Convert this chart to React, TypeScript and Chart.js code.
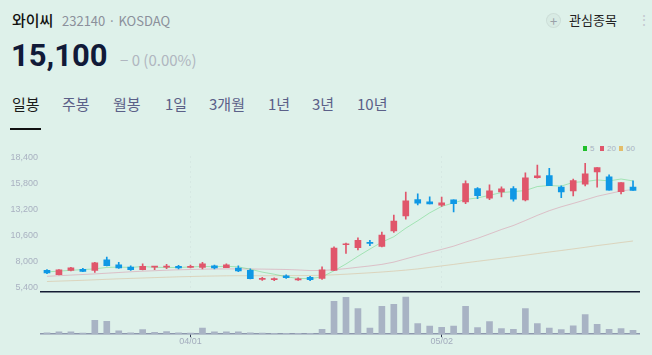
import React, { useEffect, useRef } from "react";
import { Chart, registerables } from "chart.js";

Chart.register(...registerables);

const dates = [
  "03/14", "03/15", "03/18", "03/19", "03/20", "03/21", "03/22", "03/25", "03/26", "03/27",
  "03/28", "03/29", "04/01", "04/02", "04/03", "04/04", "04/05", "04/08", "04/09", "04/11",
  "04/12", "04/15", "04/16", "04/17", "04/18", "04/19", "04/22", "04/23", "04/24", "04/25",
  "04/26", "04/29", "04/30", "05/02", "05/03", "05/07", "05/08", "05/09", "05/10", "05/13",
  "05/14", "05/16", "05/17", "05/20", "05/21", "05/22", "05/23", "05/24", "05/27", "05/28",
];
const opens = [
  7100, 6670, 7100, 7200, 7100, 8160, 7660, 7430, 7170, 7420,
  7420, 7490, 7390, 7400, 7560, 7360, 7330, 7100, 6200, 6170,
  6540, 6140, 6400, 6300, 7100, 9660, 9360, 9860, 9490, 11050,
  12550, 14170, 13940, 13620, 14140, 13940, 15270, 14310, 14940, 15270,
  14140, 16370, 16570, 15410, 15040, 15710, 16940, 16440, 14970, 15410,
];
const highs = [
  7170, 7170, 7400, 7290, 7900, 8430, 7890, 7560, 7760, 7470,
  7690, 7590, 7630, 7890, 7630, 7760, 7560, 7240, 6400, 6340,
  6640, 6340, 6500, 7460, 9460, 9830, 10350, 10090, 10920, 12620,
  14910, 14740, 14440, 14410, 14140, 16040, 15370, 15640, 15440, 15470,
  16840, 17630, 17300, 15540, 16210, 17800, 17360, 16640, 15870, 16040,
];
const lows = [
  6770, 6640, 7040, 6960, 6900, 7530, 7300, 7100, 7130, 7170,
  7260, 7230, 7330, 7230, 7230, 7360, 6970, 6240, 6100, 6070,
  6300, 6100, 6070, 6200, 7060, 8790, 9130, 9560, 9430, 10880,
  12220, 13640, 13740, 13480, 12950, 13770, 14270, 14170, 14440, 14010,
  14040, 16310, 15570, 14370, 14540, 15540, 15410, 15110, 14740, 15100,
];
const closes = [
  6840, 7160, 7360, 7000, 7860, 7560, 7330, 7170, 7490, 7460,
  7460, 7330, 7430, 7760, 7330, 7660, 7040, 6270, 6300, 6270,
  6370, 6240, 6170, 7160, 9330, 9760, 10090, 9790, 10620, 12020,
  14040, 13810, 13740, 13840, 13770, 15770, 14570, 15040, 15240, 14210,
  16340, 16540, 15570, 14940, 16070, 16740, 17360, 15110, 15870, 15100,
];
const volumes = [
  130, 200, 200, 100, 1200, 1130, 300, 130, 400, 170,
  230, 130, 100, 530, 200, 200, 200, 130, 100, 70,
  70, 70, 70, 430, 2870, 3200, 2230, 530, 2430, 2600,
  3230, 930, 700, 600, 700, 2430, 570, 1100, 500, 430,
  2230, 930, 530, 400, 730, 1700, 870, 430, 500, 330,
];
const ma5 = [
  6940, 7020, 7100, 7170, 7244, 7388, 7422, 7384, 7482, 7402,
  7382, 7382, 7434, 7488, 7462, 7502, 7444, 7212, 6920, 6708,
  6450, 6290, 6270, 6442, 7054, 7732, 8502, 9226, 9918, 10456,
  11312, 12056, 12846, 13490, 13840, 14186, 14338, 14598, 14878, 14966,
  15080, 15474, 15580, 15520, 15892, 15972, 16136, 16044, 16230, 16036,
];
const ma20 = [
  6500, 6560, 6620, 6680, 6740, 6810, 6880, 6950, 7010, 7060,
  7110, 7150, 7180, 7210, 7230, 7240, 7240, 7230, 7220, 7204,
  7181, 7135, 7075, 7083, 7157, 7267, 7405, 7536, 7692, 7920,
  8249, 8573, 8889, 9193, 9515, 9920, 10297, 10735, 11182, 11579,
  12078, 12593, 13063, 13452, 13789, 14138, 14501, 14767, 15030, 15184,
];
const ma60 = [
  5980, 6020, 6060, 6100, 6150, 6200, 6250, 6290, 6330, 6370,
  6410, 6450, 6480, 6510, 6530, 6550, 6560, 6560, 6560, 6560,
  6570, 6570, 6580, 6600, 6650, 6710, 6780, 6850, 6930, 7020,
  7120, 7240, 7390, 7540, 7690, 7850, 8000, 8150, 8300, 8450,
  8610, 8770, 8930, 9080, 9240, 9400, 9570, 9720, 9880, 10030,
];
const priceTicks = [5400, 8000, 10600, 13200, 15800, 18400];
const shownDates = ["04/01", "05/02"];
const maNames = ["5", "20", "60"];
const tabs = ["일봉", "주봉", "월봉", "1일", "3개월", "1년", "3년", "10년"];
const tabLefts = [12, 62, 113, 165, 209, 268, 312, 357];

const BG = "#def1ea";
const UP = "#e0566b";
const DOWN = "#0f98e5";
const MA_SOLID = ["#1fbf2a", "#e0566b", "#e3bd6a"];
const MA_LINE = ["rgba(40,200,70,0.33)", "rgba(215,100,135,0.35)", "rgba(215,165,115,0.38)"];
const AXIS_FONT = "'Liberation Sans', Arial, sans-serif";
const KR = "'Noto Sans CJK KR', 'Noto Sans', sans-serif";

export default function App() {
  const priceRef = useRef<HTMLCanvasElement>(null);
  const volRef = useRef<HTMLCanvasElement>(null);

  useEffect(() => {
    const colors = closes.map((c, i) => (c >= opens[i] ? UP : DOWN));
    const maData = [ma5, ma20, ma60];
    const price = new Chart(priceRef.current!, {
      type: "bar",
      data: {
        labels: dates,
        datasets: [
          ...maData.map((d, k) => ({
            type: "line" as const,
            label: maNames[k],
            data: d,
            borderColor: MA_LINE[k],
            borderWidth: 1,
            pointRadius: 0,
            tension: 0,
            order: 3 + k,
          })),
          {
            label: "wick",
            data: lows.map((l, i) => [l, highs[i]]),
            backgroundColor: colors,
            barThickness: 1,
            grouped: false,
            order: 2,
          } as any,
          {
            label: "body",
            data: opens.map((o, i) => [o, closes[i]]),
            backgroundColor: colors,
            barThickness: 6,
            grouped: false,
            minBarLength: 1,
            order: 1,
          } as any,
        ],
      },
      options: {
        animation: false,
        responsive: false,
        devicePixelRatio: 1,
        layout: { padding: { top: 16, bottom: 3, left: 0, right: 13 } },
        plugins: { legend: { display: false }, tooltip: { enabled: false } },
        scales: {
          x: {
            offset: true,
            ticks: { display: false, autoSkip: false },
            grid: {
              offset: false,
              drawTicks: false,
              color: (ctx: any) =>
                shownDates.includes(dates[ctx.index]) ? "rgba(110,120,140,0.07)" : "rgba(0,0,0,0)",
            },
            border: { display: true, color: "#141c33", width: 1.5, dash: [2, 3] },
          },
          y: {
            min: 4971,
            max: 18530,
            afterBuildTicks: (s: any) => {
              s.ticks = priceTicks.map((v) => ({ value: v }));
            },
            afterFit: (s: any) => {
              s.width = 41;
            },
            grid: { display: false, drawTicks: false },
            border: { display: false },
            ticks: {
              color: "#a9b1c1",
              padding: 3,
              font: { size: 9, family: AXIS_FONT },
              callback: (v: any) => Number(v).toLocaleString("en-US"),
            },
          },
        },
      },
    });

    const vol = new Chart(volRef.current!, {
      type: "bar",
      data: {
        labels: dates,
        datasets: [{ data: volumes, backgroundColor: "#a8b3c4", barThickness: 6 }],
      },
      options: {
        animation: false,
        responsive: false,
        devicePixelRatio: 1,
        layout: { padding: { top: 1, bottom: 9, left: 41, right: 13 } },
        plugins: { legend: { display: false }, tooltip: { enabled: false } },
        scales: {
          x: {
            offset: true,
            grid: {
              offset: false,
              drawOnChartArea: false,
              drawTicks: true,
              tickLength: 3,
              color: (ctx: any) =>
                shownDates.includes(dates[ctx.index]) ? "#2b334d" : "rgba(0,0,0,0)",
            },
            border: { color: "#8d98ad", width: 1.5 },
            ticks: {
              autoSkip: false,
              maxRotation: 0,
              padding: -1,
              color: "#a3acbd",
              font: { size: 9, family: AXIS_FONT },
              callback: (_v: any, i: number) => (shownDates.includes(dates[i]) ? dates[i] : ""),
            },
          },
          y: { display: false, min: 0, max: 3500 },
        },
      },
    });

    return () => {
      price.destroy();
      vol.destroy();
    };
  }, []);

  const abs = (style: React.CSSProperties): React.CSSProperties => ({
    position: "absolute",
    whiteSpace: "nowrap",
    ...style,
  });

  return (
    <div
      style={{
        position: "absolute",
        left: 0,
        top: 0,
        width: 652,
        height: 355,
        overflow: "hidden",
        background: BG,
        fontFamily: KR,
      }}
    >
      <div style={abs({ left: 12, top: 12, fontSize: 15, lineHeight: "15px", color: "#111", fontWeight: 500 })}>와이씨</div>
      <div style={abs({ left: 62, top: 14, fontSize: 13, lineHeight: "13px", color: "#8b909b" })}>232140 · KOSDAQ</div>
      <div
        style={abs({
          left: 546,
          top: 13,
          width: 15,
          height: 15,
          borderRadius: 8,
          background: "rgba(0,0,0,0.025)",
          border: "1px solid rgba(0,0,0,0.06)",
          boxSizing: "border-box",
          color: "#9aa0a8",
          fontSize: 13,
          lineHeight: "13px",
          textAlign: "center",
        })}
      >
        +
      </div>
      <div style={abs({ left: 569, top: 13, fontSize: 13, lineHeight: "13px", color: "#222" })}>관심종목</div>
      <div style={abs({ left: 637, top: 12, fontSize: 14, lineHeight: "14px", color: "#c3c8cf" })}>⋮</div>
      <div
        style={abs({
          left: 11,
          top: 40,
          fontSize: 31,
          lineHeight: "31px",
          fontWeight: 700,
          color: "#111a38",
          fontFamily: "Roboto, 'Noto Sans', sans-serif",
        })}
      >
        15,100
      </div>
      <div style={abs({ left: 120, top: 52, fontSize: 15, lineHeight: "15px", color: "#b0b6c0" })}>− 0 (0.00%)</div>
      {tabs.map((t, i) => (
        <div
          key={t}
          style={abs({
            left: tabLefts[i],
            top: 96,
            fontSize: 15,
            lineHeight: "15px",
            color: i === 0 ? "#1a1a1a" : "#5b6088",
          })}
        >
          {t}
        </div>
      ))}
      <div style={abs({ left: 10, top: 128, width: 31, height: 2, background: "#111" })} />
      {maNames.map((n, k) => (
        <React.Fragment key={n}>
          <div style={abs({ left: [583, 600, 619][k], top: 146, width: 4, height: 5, background: MA_SOLID[k] })} />
          <div
            style={abs({
              left: [590, 607, 626][k],
              top: 145,
              fontSize: 8,
              lineHeight: "8px",
              color: "#a9b1c1",
              fontFamily: AXIS_FONT,
            })}
          >
            {n}
          </div>
        </React.Fragment>
      ))}
      <canvas ref={priceRef} width={652} height={160} style={{ position: "absolute", left: 0, top: 140 }} />
      <canvas ref={volRef} width={652} height={62} style={{ position: "absolute", left: 0, top: 293 }} />
    </div>
  );
}
